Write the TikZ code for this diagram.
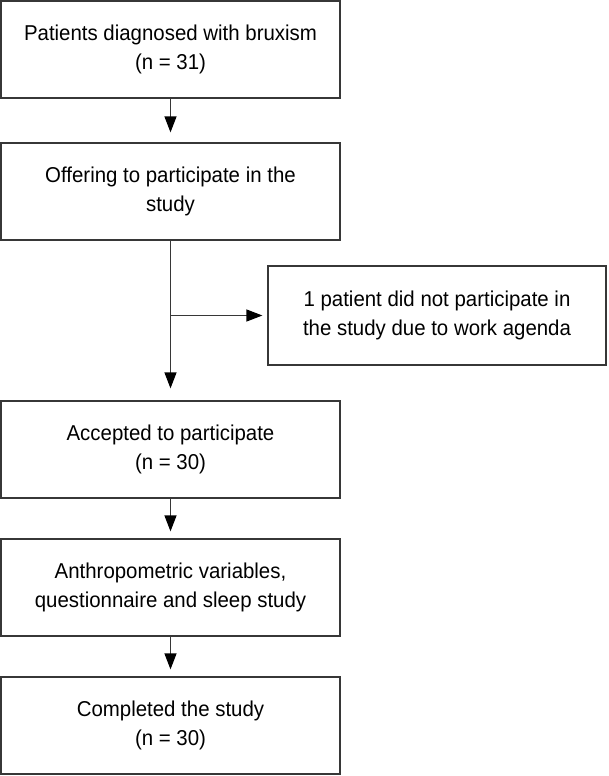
\documentclass[tikz,border=0pt]{standalone}
\usepackage{fontspec}
\setmainfont{Liberation Sans}[FakeStretch=0.95]
\usetikzlibrary{arrows.meta,positioning}
\definecolor{linegray}{RGB}{55,55,55}

\begin{document}
\begin{tikzpicture}[x=1pt,y=-1pt]
  \tikzstyle{StepBox}=[draw=linegray,line width=1.2pt,minimum width=339pt,minimum height=97pt,inner sep=0pt,align=center,font=\fontsize{21.5}{29}\selectfont]
  \tikzset{FlowArrow/.style = {draw=linegray,line width=1.2pt,-{Triangle[length=16pt,width=12pt,color=black]}}}
  \useasboundingbox (0,0) rectangle (609,776);
  % main column
  \node[StepBox] (diag) at (170.5,49.5) {Patients diagnosed with bruxism\\(n = 31)};
  \node[StepBox] (offer) at (170.5,191.5) {Offering to participate in the\\study};
  \node[StepBox] (accept) at (170.5,449.5) {Accepted to participate\\(n = 30)};
  \node[StepBox] (measure) at (170.5,587.5) {Anthropometric variables,\\questionnaire and sleep study};
  \node[StepBox] (complete) at (170.5,725.5) {Completed the study\\(n = 30)};
  % exclusion
  \node[StepBox,minimum width=338pt,minimum height=99pt] (dropout) at (437,315.5) {1 patient did not participate in\\the study due to work agenda};
  \coordinate (split) at (offer.south |- dropout.west);
  % arrows
  \draw[FlowArrow,shorten >=10pt] (diag.south) -- (offer.north);
  \draw[FlowArrow,shorten >=12pt] (offer.south) -- (accept.north);
  \draw[FlowArrow,shorten >=5pt] (split) -- (dropout.west);
  \draw[FlowArrow,shorten >=7pt] (accept.south) -- (measure.north);
  \draw[FlowArrow,shorten >=7pt] (measure.south) -- (complete.north);
\end{tikzpicture}
\end{document}
